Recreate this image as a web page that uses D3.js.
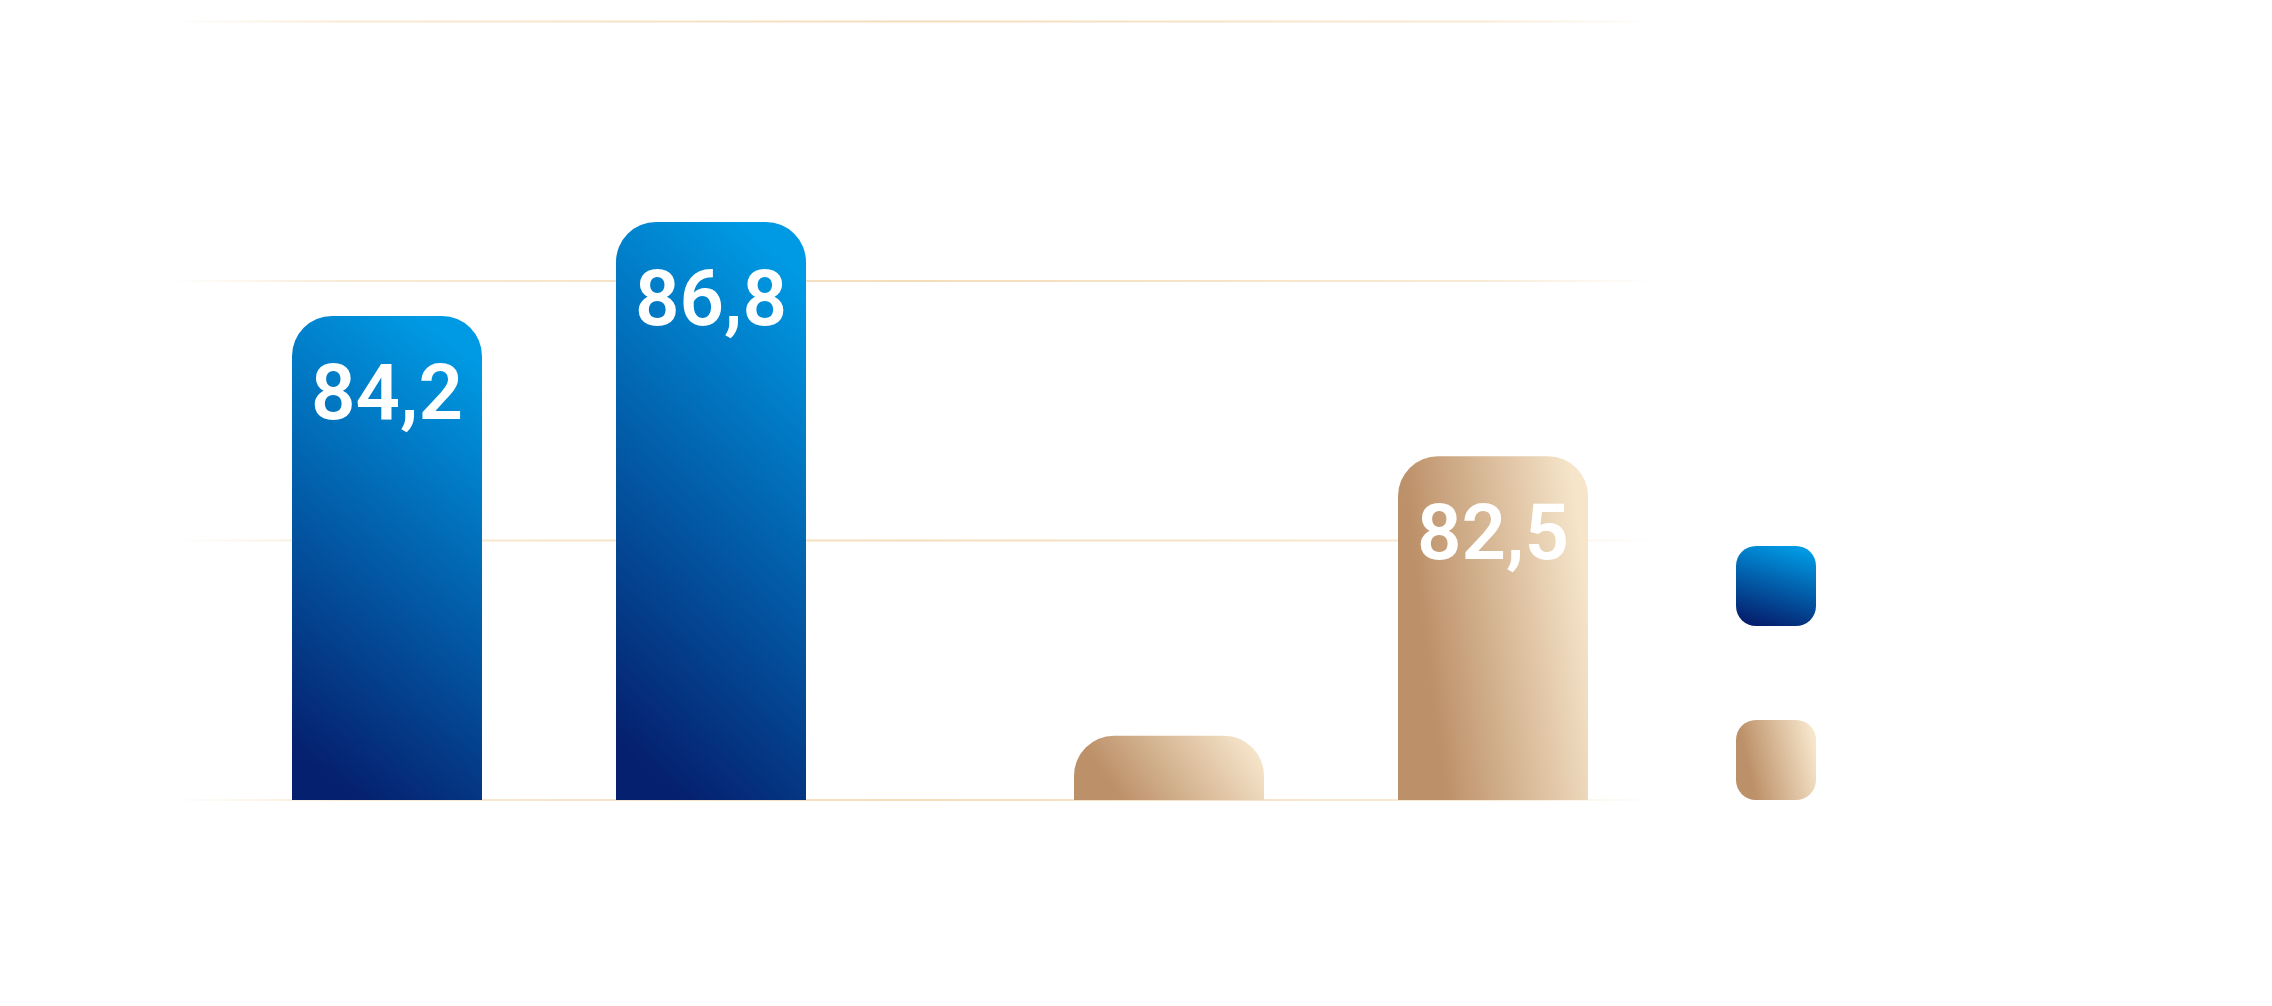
<!DOCTYPE html>
<html>
<head>
<meta charset="utf-8">
<script src="https://cdn.jsdelivr.net/npm/d3@7"></script>
<style>
  html, body { margin: 0; padding: 0; background: #ffffff; }
  svg { display: block; }
</style>
</head>
<body>
<svg id="chart"></svg>
<script>
// data
var categories = ["1", "2", "3", "4"]
var seriesNames = ["blue", "beige"]
var blueValues = [74.6, 89.1, null, null]
var beigeValues = [null, null, 9.9, 53.0]
var valueLabels = ["84,2", "86,8", "", "82,5"]
var yTicks = [0, 40, 80, 120]

var dimensions = {
    width: 2272,
    height: 1006,
    margin: { top: 21.5, bottom: 206, left: 292, right: 684 }
}
var gridLeft = 170, gridRight = 1656

var svg = d3.select("#chart")
            .attr("width", dimensions.width)
            .attr("height", dimensions.height)

var defs = svg.append("defs")

var blueGrad = defs.append("linearGradient")
                   .attr("id", "blueGrad")
                   .attr("x1", "65%").attr("y1", "0%")
                   .attr("x2", "35%").attr("y2", "100%")
blueGrad.append("stop").attr("offset", "0%").attr("stop-color", "#0099e3")
blueGrad.append("stop").attr("offset", "100%").attr("stop-color", "#05206e")

var beigeGrad = defs.append("linearGradient")
                    .attr("id", "beigeGrad")
                    .attr("x1", "15%").attr("y1", "60%")
                    .attr("x2", "100%").attr("y2", "40%")
beigeGrad.append("stop").attr("offset", "0%").attr("stop-color", "#bc9068")
beigeGrad.append("stop").attr("offset", "100%").attr("stop-color", "#f6e5ca")

var gridGrad = defs.append("linearGradient")
                   .attr("id", "gridGrad")
                   .attr("gradientUnits", "userSpaceOnUse")
                   .attr("x1", gridLeft).attr("x2", gridRight)
                   .attr("y1", 0).attr("y2", 0)
gridGrad.append("stop").attr("offset", "0%").attr("stop-color", "#f3dcb8").attr("stop-opacity", 0)
gridGrad.append("stop").attr("offset", "12%").attr("stop-color", "#f3dcb8").attr("stop-opacity", 0.6)
gridGrad.append("stop").attr("offset", "50%").attr("stop-color", "#f3dcb8").attr("stop-opacity", 0.95)
gridGrad.append("stop").attr("offset", "88%").attr("stop-color", "#f3dcb8").attr("stop-opacity", 0.6)
gridGrad.append("stop").attr("offset", "100%").attr("stop-color", "#f3dcb8").attr("stop-opacity", 0)

var x0 = d3.scaleBand()
           .domain(categories)
           .range([dimensions.margin.left, dimensions.width - dimensions.margin.right])
           .padding(0)

var barWidth = 190
var x1 = d3.scalePoint()
           .domain(seriesNames)
           .range([0, x0.bandwidth() - barWidth])

var yScale = d3.scaleLinear()
               .domain([0, 120])
               .range([dimensions.height - dimensions.margin.bottom, dimensions.margin.top])

// gridlines
svg.append("g")
   .selectAll("line")
   .data(yTicks)
   .join("line")
   .attr("x1", gridLeft)
   .attr("x2", gridRight)
   .attr("y1", d => yScale(d))
   .attr("y2", d => yScale(d))
   .style("stroke", "url(#gridGrad)")
   .style("stroke-width", 2)

var rows = []
categories.forEach(function (c, i) {
    if (blueValues[i] != null) rows.push({ cat: c, s: "blue", v: blueValues[i], label: valueLabels[i] })
    if (beigeValues[i] != null) rows.push({ cat: c, s: "beige", v: beigeValues[i], label: valueLabels[i] })
})

function barPath(d) {
    var x = x0(d.cat) + x1(d.s)
    var yTop = yScale(d.v)
    var yBot = yScale(0)
    var r = Math.min(40, (yBot - yTop))
    var w = barWidth
    var p = d3.path()
    p.moveTo(x, yBot)
    p.lineTo(x, yTop + r)
    p.arcTo(x, yTop, x + r, yTop, r)
    p.lineTo(x + w - r, yTop)
    p.arcTo(x + w, yTop, x + w, yTop + r, r)
    p.lineTo(x + w, yBot)
    p.closePath()
    return p.toString()
}

svg.append("g")
   .selectAll("path")
   .data(rows)
   .join("path")
   .attr("d", barPath)
   .style("fill", d => d.s == "blue" ? "url(#blueGrad)" : "url(#beigeGrad)")

svg.append("g")
   .selectAll("text")
   .data(rows.filter(d => d.label != ""))
   .join("text")
   .attr("x", d => x0(d.cat) + x1(d.s) + barWidth / 2)
   .attr("y", d => yScale(d.v) + 103)
   .attr("text-anchor", "middle")
   .style("font-family", "Roboto, sans-serif")
   .style("font-weight", 600)
   .style("font-size", "78px")
   .style("fill", "#ffffff")
   .text(d => d.label)

// legend
var legend = svg.append("g")
                .attr("transform", "translate(1736,546)")
legend.selectAll("rect")
      .data(seriesNames)
      .join("rect")
      .attr("x", 0)
      .attr("y", (d, i) => i * 174)
      .attr("width", 80)
      .attr("height", 80)
      .attr("rx", 20)
      .style("fill", d => d == "blue" ? "url(#blueGrad)" : "url(#beigeGrad)")
</script>
</body>
</html>
